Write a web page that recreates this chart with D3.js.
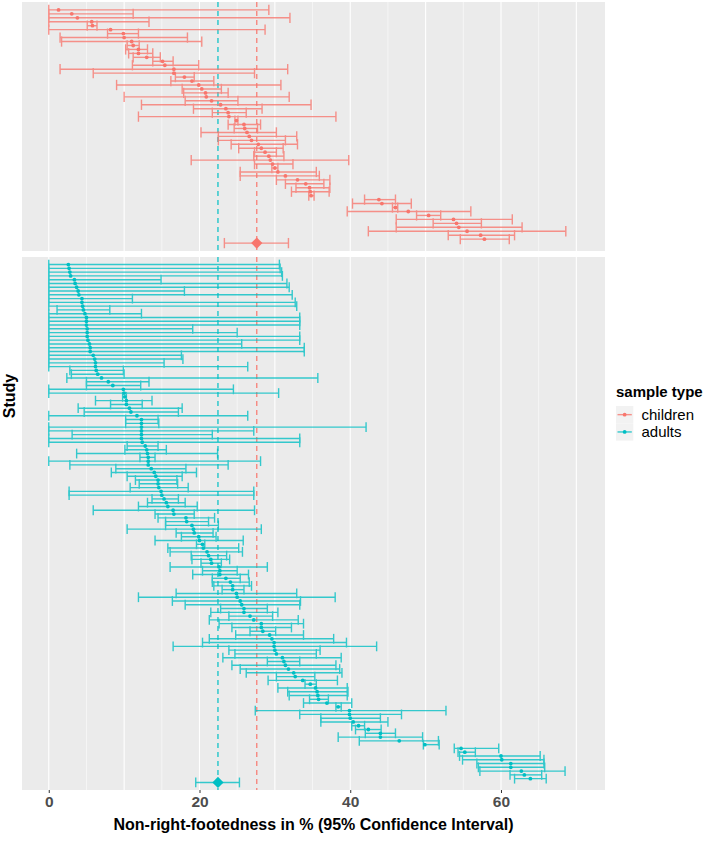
<!DOCTYPE html>
<html>
<head>
<meta charset="utf-8">
<script src="https://cdn.jsdelivr.net/npm/d3@7"></script>
<style>
  body { margin: 0; background: #fff; }
  svg { display: block; font-family: "Liberation Sans", Arial, sans-serif; }
</style>
</head>
<body>
<svg id="chart" width="711" height="862"></svg>
<script>
// children studies (sorted by estimate), % non-right-footed
const childEst = [1.3, 3.05, 3.8, 5.7, 5.8, 8.2, 9.9, 10.0, 11.0, 11.2, 11.9, 11.9, 13.0, 15.1, 15.4, 16.6, 16.6, 18.0, 19.0, 19.9,
  20.3, 20.8, 20.9, 21.6, 22.8, 23.5, 23.8, 23.9, 24.9, 25.9, 26.0, 26.3, 26.6, 26.9, 27.8, 28.2, 28.7, 29.2, 29.4, 29.7,
  30.0, 30.4, 31.4, 33.0, 34.1, 34.6, 34.7, 34.8, 43.8, 44.2, 46.0, 47.7, 50.4, 53.7, 54.1, 54.4, 55.5, 57.3, 57.8];
const childLo = [0, 0, 0, 0, 5.1, 0, 7.8, 1.5, 1.7, 10.4, 10.2, 10.6, 11.2, 13.8, 11.1, 1.5, 5.9, 16.8, 16.2, 9.0,
  17.7, 17.9, 10.0, 18.1, 12.3, 19.2, 21.7, 11.9, 24.7, 23.8, 24.6, 20.2, 22.5, 22.5, 24.2, 25.2, 27.3, 27.2, 18.9, 27.3,
  29.6, 25.4, 25.4, 30.2, 31.4, 32.8, 32.2, 34.5, 41.9, 40.3, 45.6, 39.6, 48.8, 46.1, 51.0, 46.1, 42.4, 53.0, 54.6];
const childHi = [29.2, 11.2, 32.0, 13.3, 6.4, 28.7, 11.9, 18.4, 20.3, 12.0, 13.1, 13.8, 14.8, 16.5, 19.9, 31.7, 27.3, 19.3, 21.9, 30.8,
  22.9, 23.8, 31.9, 25.1, 34.8, 28.3, 26.2, 38.1, 25.1, 28.1, 27.7, 30.2, 32.9, 31.4, 33.0, 31.1, 30.2, 31.2, 39.8, 32.4,
  30.4, 35.5, 35.9, 37.3, 36.5, 37.3, 37.2, 35.2, 46.0, 48.1, 46.3, 56.0, 52.0, 61.5, 57.4, 62.8, 68.6, 61.8, 61.1];

// adult studies
const adultEst = [2.6, 2.7, 2.8, 2.9, 3.4, 3.5, 3.7, 3.9, 4.0, 4.4, 4.4, 4.5, 4.6, 4.8, 5.0, 5.0, 5.0, 5.1, 5.1, 5.1,
  5.2, 5.4, 5.5, 5.5, 5.9, 6.1, 6.2, 6.2, 6.3, 6.5, 7.0, 7.9, 8.5, 9.9, 10.0, 10.1, 10.3, 10.3, 10.7, 10.9,
  11.7, 12.3, 12.3, 12.3, 12.3, 12.3, 12.3, 12.4, 12.8, 13.0, 13.1, 13.2, 13.2, 13.2, 13.6, 14.0, 14.2, 14.5, 14.5, 14.6,
  14.9, 15.0, 15.3, 15.6, 15.8, 16.5, 16.6, 18.2, 18.3, 19.0, 19.2, 19.3, 19.9, 20.0, 20.4, 20.5, 21.0, 21.2, 21.5, 21.6,
  22.6, 22.7, 22.7, 23.5, 24.1, 24.4, 24.4, 24.9, 25.0, 25.4, 25.6, 25.9, 25.9, 26.7, 27.2, 28.2, 28.2, 28.4, 29.3, 29.6,
  29.9, 29.9, 30.0, 30.2, 31.0, 31.2, 31.4, 31.8, 32.5, 32.7, 33.7, 34.7, 35.4, 35.6, 35.7, 35.8, 36.9, 38.4, 39.9, 39.9,
  40.0, 40.4, 41.1, 42.4, 44.0, 44.0, 46.5, 49.9, 54.7, 55.2, 60.0, 60.1, 61.3, 61.3, 62.7, 63.1, 63.9];
const adultLo = [0, 0, 0, 0, 0, 0, 0, 0, 0, 0, 0, 0, 1.1, 0, 0, 0, 0, 0, 0, 0,
  0, 0, 0, 0, 0, 0, 0, 0, 2.8, 3.0, 2.4, 5.0, 5.0, 0, 0, 9.8, 6.2, 8.2, 3.9, 4.7,
  0, 10.2, 10.2, 0, 0, 3.1, 0, 0, 10.4, 10.1, 3.7, 12.1, 0, 2.8, 8.9, 8.3, 10.4, 11.5, 12.0, 10.8,
  2.7, 2.7, 13.7, 13.1, 11.9, 5.9, 14.1, 14.5, 15.5, 15.5, 10.4, 16.9, 17.6, 14.1, 19.6, 15.8, 16.1, 18.9, 19.0, 20.2,
  16.1, 20.4, 19.1, 21.7, 21.7, 21.9, 23.0, 16.9, 11.9, 16.4, 18.1, 22.8, 21.5, 23.9, 21.3, 22.6, 24.3, 26.7, 24.8, 21.3,
  20.4, 16.5, 23.9, 24.7, 23.1, 29.0, 24.3, 25.4, 26.2, 30.2, 29.1, 34.0, 30.4, 31.7, 31.9, 34.6, 33.8, 38.1, 27.4, 33.3,
  36.1, 36.1, 40.2, 40.7, 42.0, 38.4, 41.2, 49.7, 53.8, 54.3, 54.5, 54.9, 56.8, 57.0, 57.2, 61.2, 61.8];
const adultHi = [30.6, 30.7, 30.9, 31.0, 14.9, 31.6, 31.9, 18.0, 32.3, 11.1, 32.7, 32.9, 8.1, 12.3, 33.3, 33.3, 33.3, 19.1, 25.0, 33.3,
  33.3, 25.6, 33.9, 33.9, 17.6, 17.8, 15.3, 26.4, 9.9, 10.0, 35.7, 13.3, 12.2, 24.5, 30.5, 10.3, 13.7, 12.4, 17.7, 17.2,
  26.4, 14.5, 14.6, 42.1, 27.2, 21.7, 33.3, 33.3, 14.5, 15.6, 22.4, 14.1, 28.1, 23.8, 18.2, 19.6, 17.7, 17.0, 17.1, 18.5,
  27.2, 27.2, 17.2, 18.1, 19.7, 27.3, 19.3, 22.0, 21.2, 22.5, 28.2, 21.8, 22.2, 25.8, 20.7, 25.2, 25.7, 23.6, 24.0, 22.9,
  29.0, 25.0, 26.5, 25.4, 26.6, 26.9, 25.9, 32.9, 38.0, 33.4, 33.3, 29.0, 30.4, 29.7, 33.1, 33.8, 32.2, 30.1, 33.8, 37.8,
  39.5, 43.5, 36.0, 35.5, 38.8, 33.3, 38.1, 38.6, 38.9, 35.3, 38.3, 35.5, 39.6, 39.7, 39.6, 37.1, 40.2, 38.8, 52.7, 46.8,
  44.0, 45.0, 41.9, 44.1, 46.0, 49.6, 51.7, 51.8, 59.7, 56.6, 65.2, 65.7, 65.7, 65.8, 68.5, 65.4, 66.0];

// pooled estimates per sample type
const groups = ["children", "adults"];
const pooledEst = [27.6, 22.45];
const pooledLo = [23.3, 19.5];
const pooledHi = [31.8, 25.3];
const xTicks = [0, 20, 40, 60];
const colors = ["#F8766D", "#00BFC4"];

const svg = d3.select("#chart");
const left = 22, right = 605;
const panelBox = [{ y0: 2, y1: 251 }, { y0: 257, y1: 790 }];

const x = d3.scaleLinear().domain([-3.55, 73.8]).range([left, right]);

const studies = [
  childEst.map((d, i) => ({ id: "c" + i, est: d, lo: childLo[i], hi: childHi[i] })),
  adultEst.map((d, i) => ({ id: "a" + i, est: d, lo: adultLo[i], hi: adultHi[i] }))
];

groups.forEach((grp, gi) => {
  const box = panelBox[gi];
  const rows = studies[gi];
  const pooled = { id: "pooled", est: pooledEst[gi], lo: pooledLo[gi], hi: pooledHi[gi] };
  const y = d3.scalePoint()
    .domain(rows.map(d => d.id).concat("pooled"))
    .range([box.y0, box.y1])
    .padding(2);
  const cap = y.step() * 1.3;
  const col = colors[gi];

  const g = svg.append("g");

  g.append("rect")
    .attr("x", left).attr("y", box.y0)
    .attr("width", right - left).attr("height", box.y1 - box.y0)
    .attr("fill", "#EBEBEB");

  // grid: every 5, heavier every 10
  d3.range(0, 75, 5).forEach(v => {
    g.append("line")
      .attr("x1", x(v)).attr("x2", x(v))
      .attr("y1", box.y0).attr("y2", box.y1)
      .attr("stroke", "#fff")
      .attr("stroke-width", v % 10 === 0 ? 1.1 : 0.55);
  });

  // dashed pooled lines (both groups in every panel)
  pooledEst.forEach((v, k) => {
    g.append("line")
      .attr("x1", x(v)).attr("x2", x(v))
      .attr("y1", box.y0).attr("y2", box.y1)
      .attr("stroke", colors[k])
      .attr("stroke-width", 1.2)
      .attr("stroke-dasharray", "5,4");
  });

  const all = rows.concat([pooled]);

  const bars = g.append("g")
    .attr("stroke", col)
    .attr("stroke-width", 1.4)
    .attr("opacity", 0.78);

  bars.selectAll(".h").data(all).join("line")
    .attr("x1", d => x(d.lo)).attr("x2", d => x(d.hi))
    .attr("y1", d => y(d.id)).attr("y2", d => y(d.id));

  bars.selectAll(".l").data(all).join("line")
    .attr("x1", d => x(d.lo)).attr("x2", d => x(d.lo))
    .attr("y1", d => y(d.id) - cap).attr("y2", d => y(d.id) + cap);

  bars.selectAll(".r").data(all).join("line")
    .attr("x1", d => x(d.hi)).attr("x2", d => x(d.hi))
    .attr("y1", d => y(d.id) - cap).attr("y2", d => y(d.id) + cap);

  g.selectAll(".pt").data(rows).join("circle")
    .attr("cx", d => x(d.est)).attr("cy", d => y(d.id))
    .attr("r", 1.9)
    .attr("fill", col);

  g.append("path")
    .attr("d", d3.symbol(d3.symbolDiamond2, 80)())
    .attr("transform", `translate(${x(pooled.est)},${y("pooled")})`)
    .attr("fill", col);
});

// x axis
const axis = svg.append("g")
  .attr("transform", `translate(0,${panelBox[1].y1})`)
  .call(d3.axisBottom(x).tickValues(xTicks).tickSize(3).tickPadding(3));
axis.select(".domain").remove();
axis.selectAll("line").attr("stroke", "#333");
axis.selectAll("text")
  .attr("fill", "#4D4D4D")
  .attr("font-size", 15.5)
  .attr("font-weight", "bold")
  .attr("font-family", "Liberation Sans, Arial, sans-serif");

svg.append("text")
  .attr("x", (left + right) / 2).attr("y", 830)
  .attr("text-anchor", "middle")
  .attr("font-size", 16).attr("font-weight", "bold")
  .text("Non-right-footedness in % (95% Confidence Interval)");

svg.append("text")
  .attr("transform", `translate(15,${(panelBox[0].y0 + panelBox[1].y1) / 2}) rotate(-90)`)
  .attr("text-anchor", "middle")
  .attr("font-size", 16).attr("font-weight", "bold")
  .text("Study");

// legend
const legend = svg.append("g").attr("transform", "translate(616,385)");
legend.append("text")
  .attr("x", 0).attr("y", 12)
  .attr("font-size", 15).attr("font-weight", "bold")
  .text("sample type");

groups.forEach((grp, i) => {
  const ky = 21 + i * 17.3;
  const k = legend.append("g").attr("transform", `translate(0,${ky})`);
  k.append("rect").attr("width", 17.3).attr("height", 17.3).attr("fill", "#F2F2F2");
  k.append("line")
    .attr("x1", 1.5).attr("x2", 15.8).attr("y1", 8.65).attr("y2", 8.65)
    .attr("stroke", colors[i]).attr("stroke-width", 1.4).attr("opacity", 0.78);
  k.append("circle").attr("cx", 8.65).attr("cy", 8.65).attr("r", 1.9).attr("fill", colors[i]);
  k.append("text")
    .attr("x", 25.5).attr("y", 14)
    .attr("font-size", 15)
    .text(grp);
});
</script>
</body>
</html>
